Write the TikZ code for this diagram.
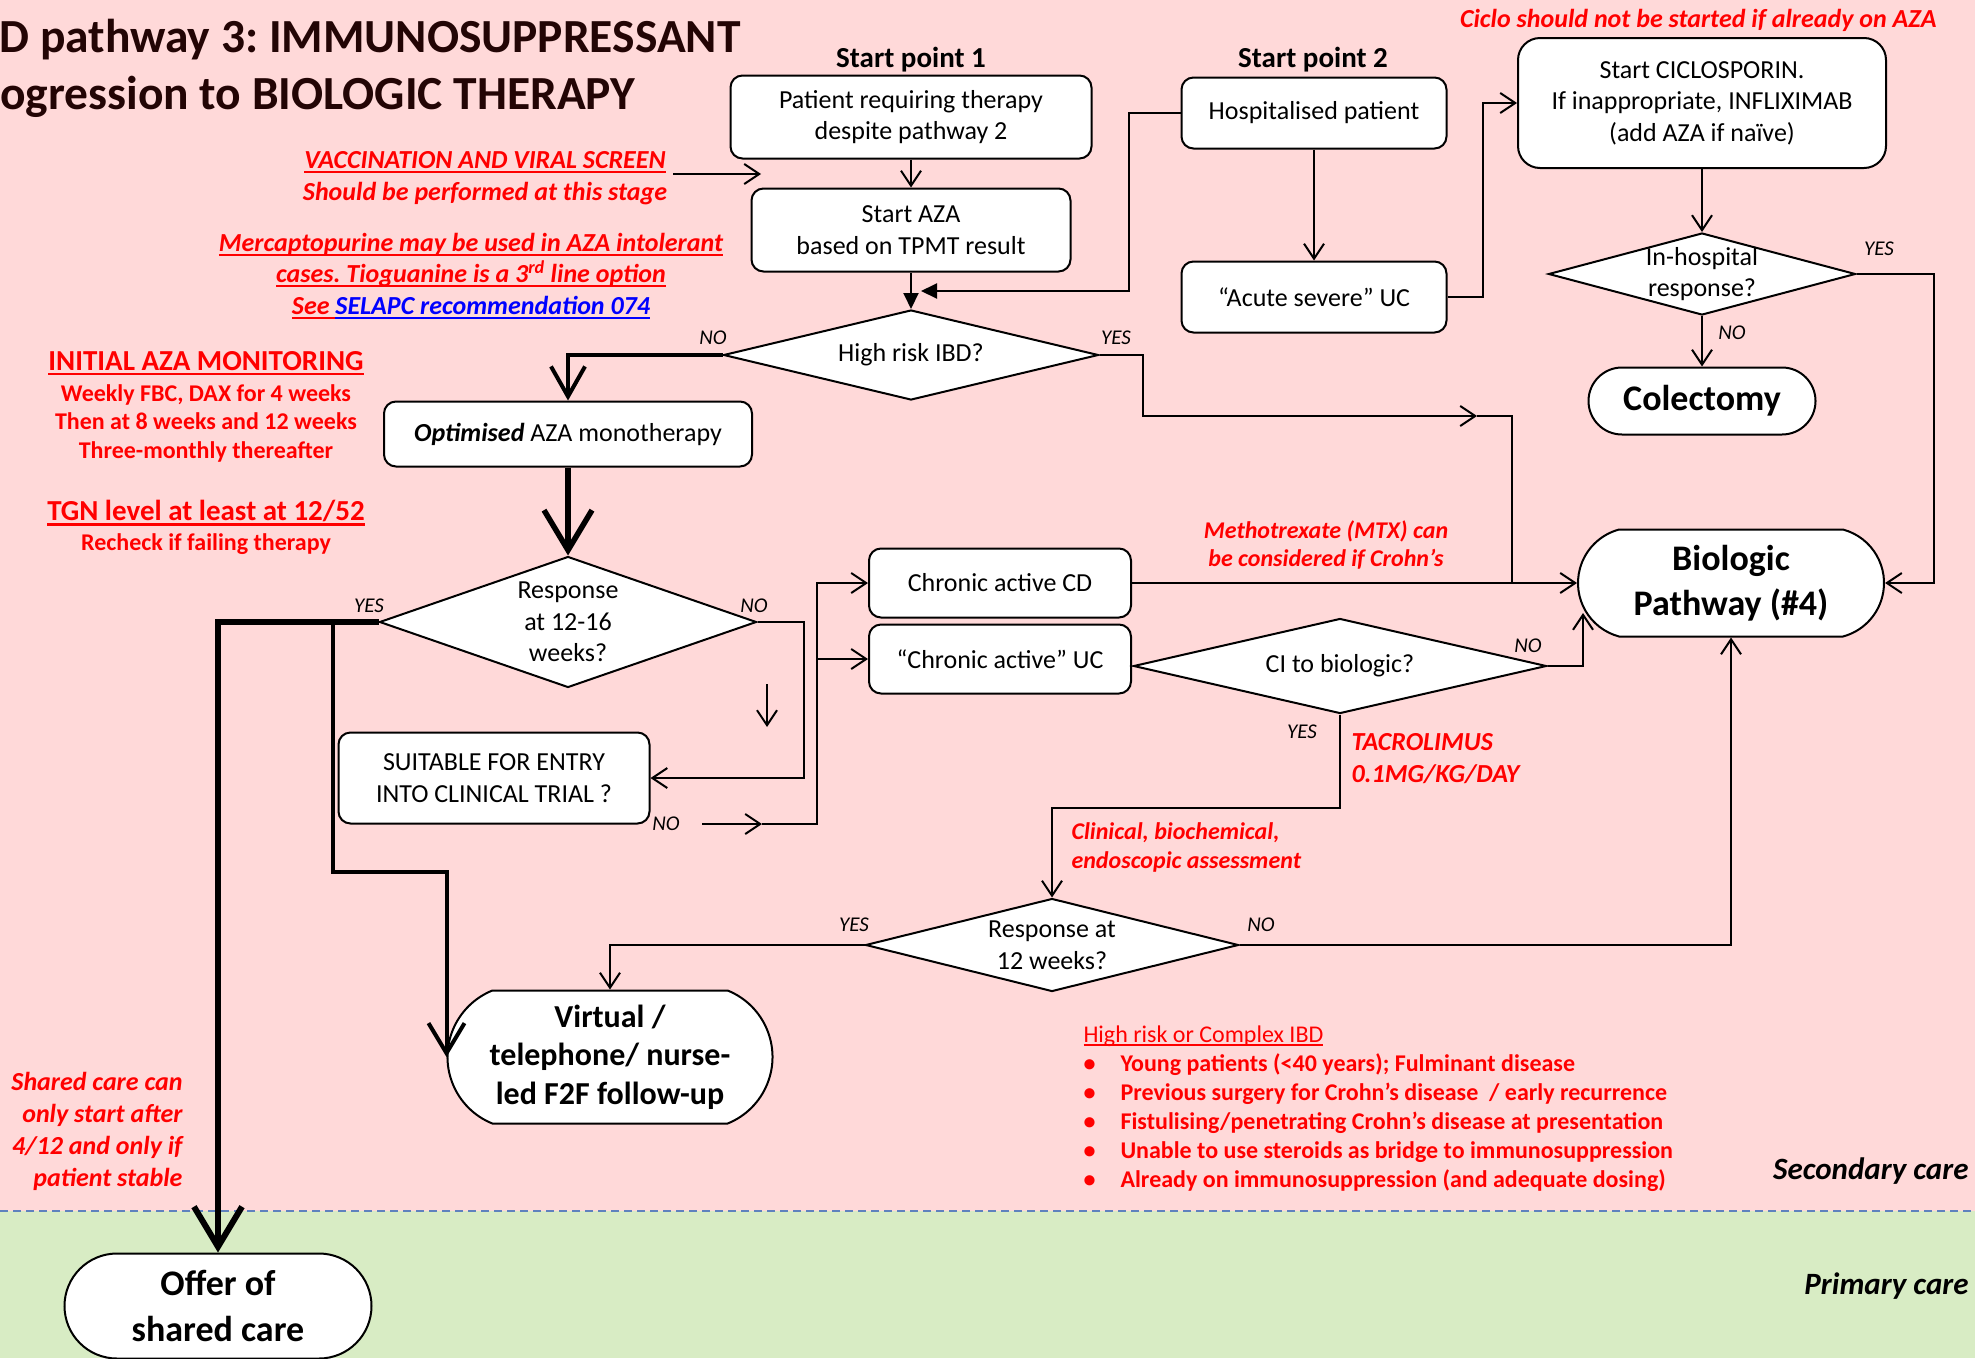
\documentclass[tikz,border=0pt]{standalone}
\usepackage{fontspec}
\setmainfont{Carlito}
\usepackage{xcolor}
\usepackage{tikz}
\usetikzlibrary{shapes.geometric, shapes.misc, arrows.meta, positioning, calc}

\definecolor{pinkbg}{RGB}{255,217,217}
\definecolor{greenbg}{RGB}{216,236,196}
\definecolor{dashblue}{RGB}{95,130,190}
\definecolor{titlebrown}{RGB}{35,5,5}

\newcommand{\fsz}[2]{\fontsize{#1pt}{#2pt}\selectfont}
\newcommand{\ulbar}[1]{\leavevmode\setbox0=\hbox{#1}\rlap{\rule[-0.17em]{\wd0}{0.075em}}\box0}
\frenchspacing

\begin{document}
\begin{tikzpicture}[
  x=1pt, y=-1pt,
  box/.style={draw, line width=2pt, fill=white, rounded corners=12pt, align=center, font=\fsz{26}{31.5}, inner sep=4pt},
  term/.style={draw, line width=2pt, fill=white, rounded rectangle, inner xsep=0pt, align=center, font=\bfseries\fsz{36}{45.5}},
  dec/.style={diamond, draw, line width=2pt, fill=white, inner sep=-6pt, align=center, font=\fsz{26}{31.5}},
  note/.style={text=red, align=center, font=\bfseries\itshape\fsz{26}{32}},
  yn/.style={font=\itshape\fsz{21}{24}},
  arrow/.style={-{Straight Barb[length=15pt,width=20pt]}, line width=2pt},
  conn/.style={line width=2pt},
  farrow/.style={-{Triangle[length=16pt,width=15pt]}, line width=2pt},
  heavy/.style={-{Straight Barb[length=40pt,width=48pt]}, line width=5.5pt},
]
\useasboundingbox (0,0) rectangle (1975,1358);

% Care zones
\fill[pinkbg] (0,0) rectangle (1975,1211);
\fill[greenbg] (0,1211) rectangle (1975,1358);
\draw[dashblue, line width=2pt, dash pattern=on 8pt off 5pt] (0,1211) -- (1975,1211);

% Title
\node[anchor=east, text=titlebrown, font=\bfseries\fsz{47.5}{57}] (title1) at (744,40) {D pathway 3: IMMUNOSUPPRESSANT};
\node[anchor=east, text=titlebrown, font=\bfseries\fsz{47.5}{57}] (title2) at (639,97) {ogression to BIOLOGIC THERAPY};

% Start point 1 nodes
\node[font=\bfseries\fsz{29}{34}] (sp1) at (911,60) {Start point 1};
\node[box, minimum width=361, minimum height=83] (p1) at (911,117) {Patient requiring therapy\\despite pathway 2};
\node[box, minimum width=319, minimum height=83] (aza) at (911,230) {Start AZA\\based on TPMT result};
\node[dec, minimum width=375, minimum height=90, aspect=4.17] (hr) at (911,355) {High risk IBD?};

% Start point 2 nodes
\node[font=\bfseries\fsz{29}{34}] (sp2) at (1313,60) {Start point 2};
\node[box, minimum width=265, minimum height=71] (hosp) at (1314,113) {Hospitalised patient};
\node[box, minimum width=265, minimum height=71] (asuc) at (1314,297) {“Acute severe” UC};

% Ciclosporin nodes
\node[note, anchor=east] (ciclo) at (1940,20) {Ciclo should not be started if already on AZA};
\node[box, minimum width=368, minimum height=130, rounded corners=22pt] (cyc) at (1702,103) {Start CICLOSPORIN.\\If inappropriate, INFLIXIMAB\\(add AZA if naïve)};
\node[dec, minimum width=307, minimum height=82, aspect=3.74] (inh) at (1702,274) {In-hospital\\response?};
\node[term, minimum width=227, minimum height=67] (col) at (1702,401) {Colectomy};
\node[term, minimum width=306, minimum height=107, rounded rectangle arc length=150] (bio) at (1731,583) {Biologic\\Pathway (\#4)};

% AZA monotherapy nodes
\node[box, minimum width=368, minimum height=65] (opt) at (568,434) {\textbf{\textit{Optimised}} AZA monotherapy};
\node[dec, minimum width=377, minimum height=131, aspect=2.88] (r1) at (568,622) {Response\\at 12-16\\weeks?};
\node[box, minimum width=311, minimum height=91] (trial) at (494,778) {SUITABLE FOR ENTRY\\INTO CLINICAL TRIAL ?};
\node[box, minimum width=262, minimum height=69] (cd) at (1000,583) {Chronic active CD};
\node[box, minimum width=262, minimum height=69] (uc) at (1000,659) {“Chronic active” UC};
\node[dec, minimum width=413, minimum height=95, aspect=4.35] (ci) at (1340,666) {CI to biologic?};
\node[dec, minimum width=373, minimum height=93, aspect=4.01] (r2) at (1052,945) {Response at\\12 weeks?};
\node[term, minimum width=325, minimum height=133, rounded rectangle arc length=136, font=\bfseries\fsz{32}{38.5}] (virt) at (610,1057) {Virtual /\\telephone/ nurse-\\led F2F follow-up};
\node[term, minimum width=307, minimum height=105] (offer) at (218,1306) {Offer of\\shared care};

% Red notes
\node[note] (vac) at (485,178) {\ulbar{VACCINATION AND VIRAL SCREEN}\\Should be performed at this stage};
\node[note, font=\bfseries\itshape\fsz{26}{31.5}] (merc) at (471,276) {\ulbar{Mercaptopurine may be used in AZA intolerant}\\\ulbar{cases. Tioguanine is a 3\textsuperscript{rd} line option}\\\ulbar{See }{\color{blue}\ulbar{SELAPC recommendation 074}}};
\node[text=red, font=\bfseries\fsz{29}{34}] (monhead) at (206,363) {\ulbar{INITIAL AZA MONITORING}};
\node[text=red, align=center, font=\bfseries\fsz{24}{28.5}] (mon) at (206,423) {Weekly FBC, DAX for 4 weeks\\Then at 8 weeks and 12 weeks\\Three-monthly thereafter};
\node[text=red, font=\bfseries\fsz{29}{34}] (tgnhead) at (206,513) {\ulbar{TGN level at least at 12/52}};
\node[text=red, font=\bfseries\fsz{24}{28.5}] (tgn) at (206,544) {Recheck if failing therapy};
\node[note, font=\bfseries\itshape\fsz{24}{27.5}] (mtx) at (1326,545) {Methotrexate (MTX) can\\be considered if Crohn’s};
\node[note, anchor=west, align=left] (tac) at (1348,759) {TACROLIMUS\\0.1MG/KG/DAY};
\node[note, anchor=west, align=left, font=\bfseries\itshape\fsz{24}{29}] (clin) at (1068,847) {Clinical, biochemical,\\endoscopic assessment};
\node[note, anchor=east, align=right] (shared) at (186,1131) {Shared care can\\only start after\\4/12 and only if\\patient stable};
\node[text=red, anchor=north west, align=left, font=\bfseries\fsz{24}{29}] (hrisk) at (1080,1022) {{\mdseries\ulbar{High risk or Complex IBD}}\\
  \makebox[37pt][l]{\textbullet}Young patients (<40 years); Fulminant disease\\
  \makebox[37pt][l]{\textbullet}Previous surgery for Crohn’s disease \ / early recurrence\\
  \makebox[37pt][l]{\textbullet}Fistulising/penetrating Crohn’s disease at presentation\\
  \makebox[37pt][l]{\textbullet}Unable to use steroids as bridge to immunosuppression\\
  \makebox[37pt][l]{\textbullet}Already on immunosuppression (and adequate dosing)};

% Care zone labels
\node[anchor=east, font=\bfseries\itshape\fsz{31}{36}] (sec) at (1972,1171) {Secondary care};
\node[anchor=east, font=\bfseries\itshape\fsz{31}{36}] (prim) at (1972,1286) {Primary care};

% Arrows start point 1
\draw[arrow] (p1) -- (aza);
\draw[farrow] (aza) -- (hr);

% Arrows start point 2
\coordinate (hrin) at (921,291);
\draw[farrow] (hosp.west) -- ++(-52,0) |- (hrin);
\draw[arrow] (hosp) -- (asuc);
\draw[arrow] (asuc.east) -- ++(35,0) |- (cyc.west);
\draw[arrow] (cyc) -- (inh);
\draw[arrow] (inh) -- (col);
\draw[arrow] (inh.east) -- ++(77,0) |- (bio.east);

% High risk route to biologic
\coordinate (hrtip) at (1477,416);
\coordinate (hrjoin) at (1512,583);
\draw[arrow] (hr.east) -- ++(43,0) |- (hrtip);
\draw[conn] (hrtip) -| (hrjoin);
\draw[arrow] (cd) -- (bio);

% Heavy AZA route
\draw[heavy, line width=4pt, -{Straight Barb[length=30pt,width=34pt]}] (hr.west) -| (opt.north);
\draw[heavy] (opt) -- (r1);
\draw[heavy, line width=6pt] (r1.west) -| (offer.north);
\coordinate (yessplit) at (333,622);
\draw[heavy, line width=4pt, -{Straight Barb[length=30pt,width=36pt]}] (r1.west) -- (yessplit) -- ++(0,250) -| (virt.west);

% Non-response route
\draw[arrow] (r1.east) -- ++(46,0) |- (trial.east);
\coordinate (dropa) at (767,684);
\coordinate (dropb) at (767,727);
\draw[arrow] (dropa) -- (dropb);
\coordinate (trialno) at (702,824);
\coordinate (trialtip) at (762,824);
\coordinate (trialjoin) at (817,824);
\draw[arrow] (trialno) -- (trialtip);
\draw[arrow] (trialtip) -- (trialjoin) |- (cd.west);
\draw[arrow] (trialjoin) |- (uc.west);

% CI to biologic route
\coordinate (biolow) at (1583,613);
\draw[arrow] (ci.east) -| (biolow);
\draw[arrow] (ci.south) -- ++(0,93) -| (r2.north);
\draw[arrow] (r2.west) -| (virt.north);
\draw[arrow] (r2.east) -| (bio.south);

% Vaccination pointer
\coordinate (vacs) at (673,174);
\coordinate (vace) at (761,174);
\draw[arrow] (vacs) -- (vace);

% Branch labels
\node[yn] (nohr) at (713,338) {NO};
\node[yn] (yeshr) at (1116,338) {YES};
\node[yn] (yesinh) at (1879,249) {YES};
\node[yn] (noinh) at (1732,333) {NO};
\node[yn] (yesr1) at (369,606) {YES};
\node[yn] (nor1) at (754,606) {NO};
\node[yn] (notrial) at (666,824) {NO};
\node[yn] (noci) at (1528,646) {NO};
\node[yn] (yesci) at (1302,732) {YES};
\node[yn] (yesr2) at (854,925) {YES};
\node[yn] (nor2) at (1261,925) {NO};
\end{tikzpicture}
\end{document}
